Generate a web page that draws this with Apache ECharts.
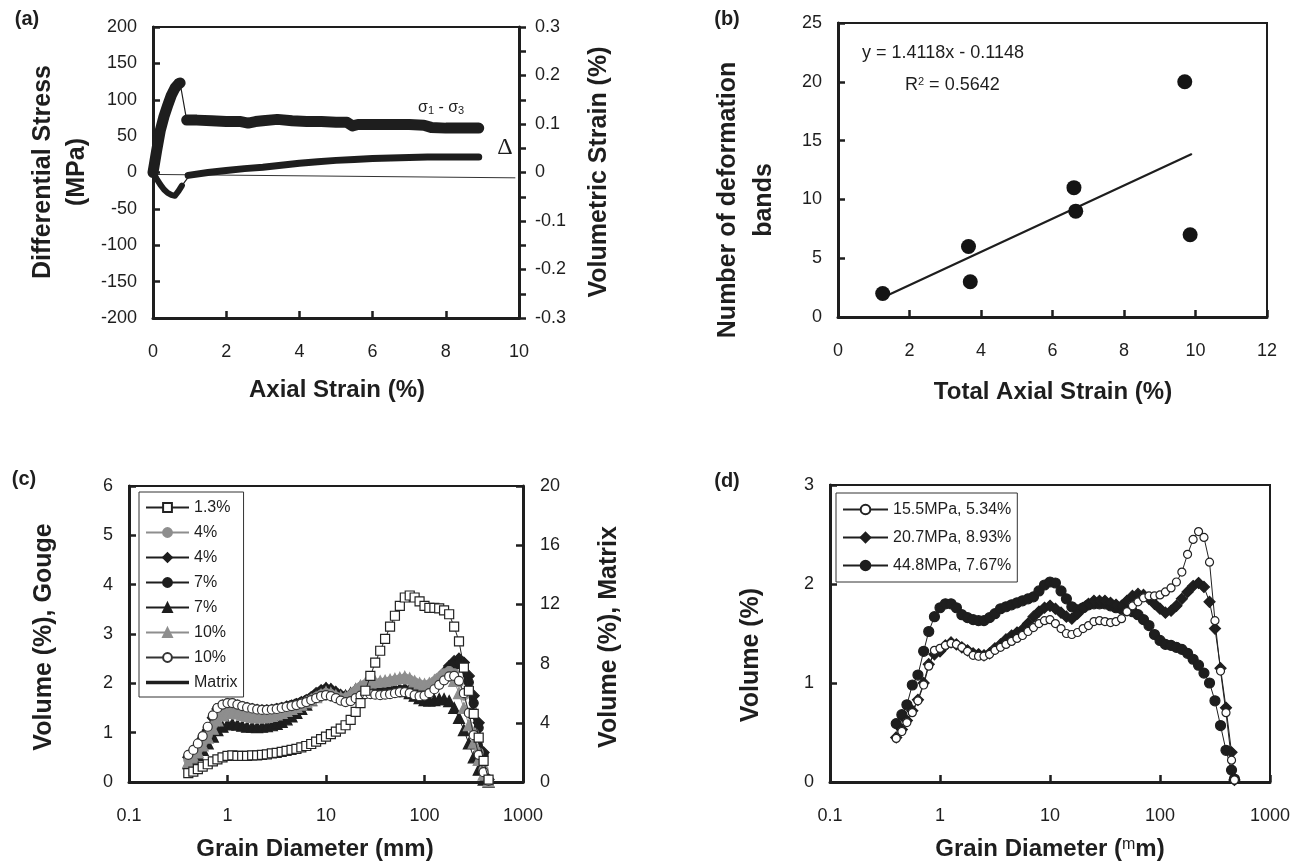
<!DOCTYPE html>
<html>
<head>
<meta charset="utf-8">
<script src="https://cdn.jsdelivr.net/npm/echarts@6/dist/echarts.min.js"></script>
<style>
  html, body { margin: 0; padding: 0; background: #fff; }
  #chart { width: 1305px; height: 864px; }
</style>
</head>
<body>
<div id="chart"></div>
<script>
// ---------- (a) triaxial test: differential stress and volumetric strain ----------
const aRiseStrain = [0, 0.05, 0.1, 0.2, 0.3, 0.4, 0.5, 0.6, 0.7, 0.74];
const aRiseStress = [0, 15, 30, 58, 77, 92, 106, 116, 122, 123];
const aDropStrain = [0.74, 0.92];
const aDropStress = [123, 72];
const aPlateauStrain = [0.92, 1.2, 1.6, 2.0, 2.4, 2.6, 2.8, 3.0, 3.4, 3.8, 4.2, 4.6, 5.0, 5.3, 5.45, 5.6, 6.0, 6.5, 7.0, 7.4, 7.6, 8.0, 8.5, 8.9];
const aPlateauStress = [72, 72, 71, 70, 70, 68, 70, 71, 73, 71, 70, 70, 69, 69, 64, 66, 66, 66, 66, 65, 62, 61, 61, 61];
const aDilStrain = [0, 0.1, 0.2, 0.3, 0.4, 0.5, 0.6, 0.7, 0.79];
const aDilVol = [0, -0.013, -0.025, -0.035, -0.042, -0.046, -0.048, -0.038, -0.027];
const aLinkStrain = [0.79, 0.96];
const aLinkVol = [-0.027, -0.010];
const aBandStrain = [0.96, 1.5, 2.0, 2.5, 3.0, 3.5, 4.0, 4.5, 5.0, 5.5, 6.0, 6.5, 7.0, 7.5, 8.0, 8.5, 8.9];
const aBandVol = [-0.006, 0.0, 0.004, 0.008, 0.011, 0.015, 0.019, 0.022, 0.025, 0.027, 0.029, 0.030, 0.031, 0.032, 0.032, 0.032, 0.032];
const aRefStrain = [0, 9.9];
const aRefVol = [-0.004, -0.011];

// ---------- (b) deformation bands vs total axial strain ----------
const bStrain = [1.25, 3.65, 3.7, 6.6, 6.65, 9.7, 9.85];
const bBands = [2, 6, 3, 11, 9, 20, 7];
const bFitRange = [1.33, 9.88];
const bFitSlope = 1.4118;
const bFitIntercept = -0.1148;
const bFitR2 = '0.5642';

// ---------- grain size bins (mm) shared by (c) and (d) ----------
const grainDiameter = [0.40, 0.45, 0.50, 0.56, 0.63, 0.71, 0.79, 0.89, 1.00, 1.12,
  1.26, 1.41, 1.58, 1.78, 2.00, 2.24, 2.51, 2.82, 3.16, 3.55,
  3.98, 4.47, 5.01, 5.62, 6.31, 7.08, 7.94, 8.91, 10.0, 11.2,
  12.6, 14.1, 15.8, 17.8, 20.0, 22.4, 25.1, 28.2, 31.6, 35.5,
  39.8, 44.7, 50.1, 56.2, 63.1, 70.8, 79.4, 89.1, 100, 112,
  126, 141, 158, 178, 200, 224, 251, 282, 316, 355,
  398, 447, 475];

// ---------- (c) gouge grain size distributions (volume %) ----------
const cGouge13 = [0.18, 0.21, 0.26, 0.31, 0.36, 0.42, 0.46, 0.50, 0.53, 0.54,
  0.53, 0.53, 0.53, 0.54, 0.54, 0.55, 0.56, 0.58, 0.59, 0.61,
  0.63, 0.65, 0.67, 0.70, 0.73, 0.77, 0.82, 0.87, 0.92, 0.97,
  1.02, 1.08, 1.15, 1.26, 1.42, 1.60, 1.85, 2.15, 2.42, 2.66,
  2.90, 3.15, 3.37, 3.57, 3.74, 3.78, 3.74, 3.66, 3.57, 3.53,
  3.53, 3.52, 3.48, 3.40, 3.15, 2.85, 2.32, 1.85, 1.38, 0.90,
  0.43, 0.05];
const cGouge4Grey = [0.45, 0.55, 0.65, 0.80, 0.95, 1.15, 1.30, 1.38, 1.42, 1.42,
  1.40, 1.37, 1.35, 1.33, 1.32, 1.32, 1.33, 1.35, 1.38, 1.41,
  1.45, 1.49, 1.53, 1.57, 1.62, 1.67, 1.72, 1.77, 1.80, 1.78,
  1.73, 1.70, 1.70, 1.76, 1.85, 1.93, 1.98, 2.00, 2.00, 2.01,
  2.02, 2.04, 2.06, 2.08, 2.10, 2.07, 2.02, 1.98, 1.96, 1.98,
  2.04, 2.12, 2.20, 2.25, 2.20, 2.02, 1.75, 1.40, 1.00, 0.60,
  0.25, 0.03];
const cGouge4Black = [0.50, 0.60, 0.72, 0.88, 1.05, 1.30, 1.48, 1.55, 1.58, 1.58,
  1.55, 1.52, 1.50, 1.48, 1.46, 1.45, 1.45, 1.46, 1.48, 1.50,
  1.53, 1.55, 1.58, 1.62, 1.66, 1.72, 1.80, 1.86, 1.90, 1.88,
  1.82, 1.76, 1.74, 1.78, 1.86, 1.90, 1.90, 1.88, 1.86, 1.84,
  1.84, 1.85, 1.86, 1.87, 1.88, 1.86, 1.82, 1.78, 1.78, 1.85,
  1.95, 2.08, 2.22, 2.35, 2.45, 2.50, 2.42, 2.15, 1.75, 1.20,
  0.60, 0.05];
const cGouge7Circle = [0.52, 0.62, 0.75, 0.92, 1.10, 1.33, 1.50, 1.56, 1.59, 1.59,
  1.56, 1.53, 1.51, 1.49, 1.47, 1.46, 1.46, 1.47, 1.49, 1.51,
  1.53, 1.56, 1.59, 1.62, 1.66, 1.71, 1.78, 1.84, 1.88, 1.86,
  1.80, 1.75, 1.73, 1.76, 1.83, 1.86, 1.86, 1.85, 1.83, 1.82,
  1.82, 1.83, 1.84, 1.85, 1.86, 1.84, 1.80, 1.76, 1.75, 1.80,
  1.90, 2.02, 2.15, 2.28, 2.38, 2.42, 2.32, 2.02, 1.60, 1.10,
  0.55, 0.05];
const cGouge7Triangle = [0.38, 0.45, 0.55, 0.65, 0.78, 0.92, 1.05, 1.12, 1.17, 1.18,
  1.16, 1.14, 1.12, 1.12, 1.11, 1.12, 1.13, 1.15, 1.18, 1.22,
  1.27, 1.33, 1.40, 1.48, 1.57, 1.66, 1.75, 1.84, 1.90, 1.88,
  1.82, 1.76, 1.75, 1.80, 1.88, 1.94, 1.97, 1.96, 1.92, 1.88,
  1.85, 1.84, 1.84, 1.85, 1.84, 1.80, 1.75, 1.70, 1.66, 1.65,
  1.66, 1.68, 1.68, 1.64, 1.50, 1.30, 1.05, 0.78, 0.50, 0.25,
  0.05, 0.00];
const cGouge10Grey = [0.40, 0.50, 0.60, 0.74, 0.90, 1.08, 1.25, 1.35, 1.40, 1.41,
  1.39, 1.36, 1.34, 1.32, 1.31, 1.31, 1.32, 1.34, 1.37, 1.40,
  1.44, 1.48, 1.52, 1.57, 1.62, 1.67, 1.72, 1.77, 1.82, 1.80,
  1.75, 1.72, 1.72, 1.78, 1.88, 1.95, 2.00, 2.02, 2.03, 2.04,
  2.05, 2.07, 2.09, 2.11, 2.13, 2.10, 2.04, 2.00, 1.98, 2.00,
  2.06, 2.12, 2.16, 2.15, 2.05, 1.80, 1.50, 1.15, 0.80, 0.45,
  0.15, 0.01];
const cGouge10Open = [0.55, 0.65, 0.78, 0.93, 1.12, 1.35, 1.50, 1.57, 1.60, 1.60,
  1.57, 1.54, 1.51, 1.49, 1.47, 1.46, 1.46, 1.47, 1.48, 1.50,
  1.52, 1.54, 1.56, 1.59, 1.62, 1.66, 1.70, 1.74, 1.76, 1.74,
  1.70, 1.65, 1.62, 1.64, 1.70, 1.75, 1.78, 1.78, 1.77, 1.76,
  1.77, 1.78, 1.80, 1.82, 1.82, 1.80, 1.76, 1.74, 1.75, 1.80,
  1.88, 1.97, 2.06, 2.14, 2.15, 2.05, 1.80, 1.40, 0.95, 0.55,
  0.20, 0.02];
const cMatrixDiameter = [0.40, 0.50, 0.63, 0.79, 1.00, 1.26, 1.58, 2.00, 2.51, 3.16,
  3.98, 5.01, 6.31, 7.94, 10.0, 12.6, 15.8, 20.0, 25.1, 31.6,
  39.8, 50.1, 63.1, 79.4, 100, 126, 158, 200, 224, 251,
  282, 316, 355, 398, 447];
const cMatrixVolume = [1.7, 2.4, 3.5, 4.9, 5.3, 5.2, 5.0, 4.85, 4.85, 4.95,
  5.1, 5.3, 5.55, 5.95, 6.25, 6.0, 5.8, 6.1, 6.2, 6.1,
  6.1, 6.15, 6.2, 6.0, 5.85, 6.2, 6.9, 7.6, 7.8, 7.4,
  6.2, 4.6, 3.0, 1.4, 0.1];

// ---------- (d) grain size distributions at three confining pressures ----------
const d155 = [0.44, 0.51, 0.60, 0.70, 0.82, 0.98, 1.17, 1.33, 1.35, 1.38,
  1.40, 1.39, 1.36, 1.32, 1.28, 1.27, 1.27, 1.29, 1.33, 1.36,
  1.39, 1.42, 1.45, 1.48, 1.52, 1.56, 1.60, 1.63, 1.64, 1.60,
  1.55, 1.50, 1.49, 1.51, 1.55, 1.58, 1.62, 1.63, 1.62, 1.61,
  1.62, 1.65, 1.72, 1.78, 1.82, 1.86, 1.88, 1.88, 1.89, 1.92,
  1.96, 2.02, 2.12, 2.30, 2.45, 2.53, 2.47, 2.22, 1.63, 1.12,
  0.70, 0.22, 0.02];
const d207 = [0.45, 0.53, 0.62, 0.72, 0.83, 1.00, 1.19, 1.29, 1.32, 1.38,
  1.41, 1.39, 1.36, 1.33, 1.30, 1.29, 1.28, 1.30, 1.35, 1.39,
  1.44, 1.48, 1.51, 1.54, 1.60, 1.67, 1.72, 1.76, 1.78, 1.75,
  1.71, 1.67, 1.65, 1.70, 1.76, 1.80, 1.83, 1.83, 1.83, 1.81,
  1.79, 1.78, 1.83, 1.88, 1.90, 1.89, 1.85, 1.80, 1.75, 1.71,
  1.73, 1.78, 1.85, 1.92, 1.98, 2.01, 1.97, 1.82, 1.55, 1.15,
  0.75, 0.30, 0.02];
const d448 = [0.59, 0.68, 0.78, 0.98, 1.08, 1.32, 1.52, 1.67, 1.76, 1.80,
  1.80, 1.76, 1.69, 1.66, 1.64, 1.63, 1.63, 1.66, 1.70, 1.75,
  1.77, 1.79, 1.81, 1.83, 1.85, 1.87, 1.93, 1.99, 2.02, 2.01,
  1.93, 1.85, 1.77, 1.74, 1.76, 1.79, 1.80, 1.80, 1.80, 1.78,
  1.76, 1.75, 1.73, 1.72, 1.69, 1.64, 1.58, 1.49, 1.43, 1.39,
  1.38, 1.36, 1.34, 1.30, 1.24, 1.18, 1.10, 1.00, 0.82, 0.57,
  0.32, 0.12, 0.03];

// ---------- legend text ----------
const cLegendLabels = ['1.3%', '4%', '4%', '7%', '7%', '10%', '10%', 'Matrix'];
const dLegendLabels = ['15.5MPa, 5.34%', '20.7MPa, 8.93%', '44.8MPa, 7.67%'];

const FONT = '"Liberation Sans", Arial, Helvetica, sans-serif';
const INK = '#1e1e1e';
const GREY = '#8e8e8e';

function pairs(xs, ys) {
  const out = [];
  for (let i = 0; i < xs.length && i < ys.length; i++) {
    if (ys[i] != null) out.push([xs[i], ys[i]]);
  }
  return out;
}

function plainNumber(v) {
  return v >= 1 ? String(Math.round(v)) : String(+v.toFixed(3));
}

function axis(gridIndex, o) {
  const a = {
    gridIndex: gridIndex,
    type: o.type || 'value',
    axisLine: { show: true, onZero: false, lineStyle: { color: INK, width: 3 } },
    axisTick: { show: true, inside: o.tickInside !== false, length: 7, lineStyle: { color: INK, width: 2.5 } },
    axisLabel: { color: INK, fontSize: 18, fontFamily: FONT, margin: o.margin },
    splitLine: { show: false },
    minorSplitLine: { show: false }
  };
  if (o.position) a.position = o.position;
  if (o.min != null) a.min = o.min;
  if (o.max != null) a.max = o.max;
  if (o.interval != null) a.interval = o.interval;
  if (o.logBase) a.logBase = o.logBase;
  if (o.minor) a.minorTick = { show: true, splitNumber: o.minor, length: 7, lineStyle: { color: INK, width: 2.5 } };
  if (o.formatter) a.axisLabel.formatter = o.formatter;
  return a;
}

function curve(name, xi, yi, data, width, z) {
  return {
    name: name, type: 'line', xAxisIndex: xi, yAxisIndex: yi, data: data,
    symbol: 'none', z: z || 2,
    lineStyle: { color: INK, width: width, cap: 'round', join: 'round' },
    emphasis: { disabled: true }, silent: true
  };
}

function marked(name, xi, yi, data, sym, size, fill, stroke, lineColor, z) {
  return {
    name: name, type: 'line', xAxisIndex: xi, yAxisIndex: yi, data: data,
    symbol: sym, symbolSize: size, showSymbol: true, z: z,
    itemStyle: { color: fill, borderColor: stroke, borderWidth: 1.2 },
    lineStyle: { color: lineColor, width: 1 },
    emphasis: { disabled: true }, silent: true
  };
}

const cNames = ['gouge 1.3% square', 'gouge 4% grey circle', 'gouge 4% diamond', 'gouge 7% circle',
  'gouge 7% triangle', 'gouge 10% grey triangle', 'gouge 10% open circle', 'matrix'];
const dNames = ['15.5 MPa open circle', '20.7 MPa diamond', '44.8 MPa circle'];
const labelOf = {};
cNames.forEach((n, i) => { labelOf[n] = cLegendLabels[i]; });
dNames.forEach((n, i) => { labelOf[n] = dLegendLabels[i]; });

// legend entries for (c); the matrix entry is a bare thick line
const cLegendData = cNames.map((n) => n === 'matrix'
  ? { name: n, icon: 'path://M0,0 L43,0 L43,3.5 L0,3.5 Z', itemStyle: { color: INK } }
  : n);

function text(x, y, str, size, extra) {
  return Object.assign({
    type: 'text', x: x, y: y, silent: true,
    style: { text: str, fontSize: size, fontFamily: FONT, fontWeight: 'bold', fill: INK, align: 'center', verticalAlign: 'middle' }
  }, extra || {});
}
function vtext(x, y, str, size) {
  return text(x, y, str, size, { rotation: Math.PI / 2 });
}

const chart = echarts.init(document.getElementById('chart'), null, { renderer: 'canvas' });

const gridStyle = { show: true, borderColor: INK, borderWidth: 2, backgroundColor: 'transparent', containLabel: false };

const eqText = 'y = ' + bFitSlope + 'x - ' + Math.abs(bFitIntercept);

const option = {
  animation: false,
  backgroundColor: '#ffffff',
  textStyle: { fontFamily: FONT },
  grid: [
    Object.assign({ left: 153, top: 27, width: 366, height: 291 }, gridStyle),
    Object.assign({ left: 838, top: 23, width: 429, height: 294 }, gridStyle),
    Object.assign({ left: 129, top: 486, width: 394, height: 296 }, gridStyle),
    Object.assign({ left: 830, top: 485, width: 440, height: 297 }, gridStyle)
  ],
  xAxis: [
    axis(0, { min: 0, max: 10, interval: 2, margin: 25 }),
    axis(1, { min: 0, max: 12, interval: 2, margin: 25 }),
    axis(2, { type: 'log', logBase: 10, min: 0.1, max: 1000, margin: 25, formatter: plainNumber }),
    axis(3, { type: 'log', logBase: 10, min: 0.1, max: 1000, margin: 25, formatter: plainNumber })
  ],
  yAxis: [
    axis(0, { min: -200, max: 200, interval: 50, margin: 16 }),
    axis(0, { min: -0.3, max: 0.3, interval: 0.1, margin: 16, position: 'right', tickInside: false, minor: 2 }),
    axis(1, { min: 0, max: 25, interval: 5, margin: 16 }),
    axis(2, { min: 0, max: 6, interval: 1, margin: 16 }),
    axis(2, { min: 0, max: 20, interval: 4, margin: 17, position: 'right' }),
    axis(3, { min: 0, max: 3, interval: 1, margin: 16 })
  ],
  legend: [
    {
      data: cLegendData, left: 139, top: 492, orient: 'vertical',
      padding: [7, 6, 6, 6], itemGap: 8, itemWidth: 43, itemHeight: 11,
      borderColor: '#333', borderWidth: 1, backgroundColor: '#fff',
      textStyle: { fontSize: 16, color: INK, fontFamily: FONT, lineHeight: 17 },
      formatter: (n) => labelOf[n], selectedMode: false
    },
    {
      data: dNames, left: 836, top: 493, orient: 'vertical',
      padding: [8, 6, 8, 6], itemGap: 11, itemWidth: 45, itemHeight: 12,
      borderColor: '#333', borderWidth: 1, backgroundColor: '#fff',
      textStyle: { fontSize: 16, color: INK, fontFamily: FONT, lineHeight: 17 },
      formatter: (n) => labelOf[n], selectedMode: false
    }
  ],
  series: [
    // (a)
    Object.assign(curve('reference', 0, 1, pairs(aRefStrain, aRefVol), 1, 1), { lineStyle: { color: '#333', width: 1 } }),
    curve('volumetric dilation', 0, 1, pairs(aDilStrain, aDilVol), 6, 2),
    curve('volumetric link', 0, 1, pairs(aLinkStrain, aLinkVol), 1.2, 2),
    curve('volumetric strain', 0, 1, pairs(aBandStrain, aBandVol), 7, 2),
    curve('stress rise', 0, 0, pairs(aRiseStrain, aRiseStress), 11, 3),
    curve('stress drop', 0, 0, pairs(aDropStrain, aDropStress), 1.2, 3),
    curve('stress plateau', 0, 0, pairs(aPlateauStrain, aPlateauStress), 11, 3),
    // (b)
    {
      name: 'bands', type: 'scatter', xAxisIndex: 1, yAxisIndex: 2,
      data: pairs(bStrain, bBands), symbol: 'circle', symbolSize: 15,
      itemStyle: { color: '#141414', opacity: 1 }, z: 3, silent: true
    },
    curve('linear fit', 1, 2, bFitRange.map(x => [x, bFitSlope * x + bFitIntercept]), 2.2, 2),
    // (c)
    Object.assign(curve(cNames[7], 2, 4, pairs(cMatrixDiameter, cMatrixVolume), 3.5, 1), { itemStyle: { color: INK } }),
    marked(cNames[4], 2, 3, pairs(grainDiameter, cGouge7Triangle), 'triangle', 11, INK, INK, INK, 2),
    marked(cNames[2], 2, 3, pairs(grainDiameter, cGouge4Black), 'diamond', 11, INK, INK, INK, 3),
    marked(cNames[3], 2, 3, pairs(grainDiameter, cGouge7Circle), 'circle', 9, INK, INK, INK, 3),
    marked(cNames[1], 2, 3, pairs(grainDiameter, cGouge4Grey), 'circle', 9, GREY, GREY, GREY, 4),
    marked(cNames[5], 2, 3, pairs(grainDiameter, cGouge10Grey), 'triangle', 11, GREY, GREY, GREY, 4),
    marked(cNames[6], 2, 3, pairs(grainDiameter, cGouge10Open), 'circle', 9, '#ffffff', '#333', '#333', 5),
    marked(cNames[0], 2, 3, pairs(grainDiameter, cGouge13), 'rect', 9, '#ffffff', '#222', '#222', 6),
    // (d)
    marked(dNames[2], 3, 5, pairs(grainDiameter, d448), 'circle', 10, INK, INK, INK, 2),
    marked(dNames[1], 3, 5, pairs(grainDiameter, d207), 'diamond', 11, INK, INK, INK, 3),
    marked(dNames[0], 3, 5, pairs(grainDiameter, d155), 'circle', 8, '#ffffff', '#222', '#222', 4)
  ],
  graphic: [
    text(27, 19, '(a)', 20),
    text(727, 19, '(b)', 20),
    text(24, 479, '(c)', 20),
    text(727, 481, '(d)', 20),
    // (a) titles
    vtext(43, 172, 'Differential Stress', 25),
    vtext(77, 172, '(MPa)', 25),
    vtext(599, 172, 'Volumetric Strain (%)', 25),
    text(337, 390, 'Axial Strain (%)', 24),
    {
      type: 'text', x: 418, y: 108, silent: true,
      style: {
        text: '{s|σ}{b|1}{s| - σ}{b|3}', fill: INK, align: 'left', verticalAlign: 'middle',
        rich: {
          s: { fontSize: 16, fontFamily: FONT, fill: INK },
          b: { fontSize: 11, fontFamily: FONT, fill: INK, verticalAlign: 'bottom' }
        }
      }
    },
    {
      type: 'text', x: 505, y: 148, silent: true,
      style: { text: 'Δ', fontSize: 24, fontFamily: '"Liberation Serif", "DejaVu Serif", serif', fill: INK, align: 'center', verticalAlign: 'middle' }
    },
    // (b) titles
    vtext(728, 200, 'Number of deformation', 25),
    vtext(764, 200, 'bands', 25),
    text(1053, 392, 'Total Axial Strain (%)', 24),
    {
      type: 'text', x: 862, y: 53, silent: true,
      style: { text: eqText, fontSize: 18, fontFamily: FONT, fill: INK, align: 'left', verticalAlign: 'middle' }
    },
    {
      type: 'text', x: 905, y: 85, silent: true,
      style: {
        text: '{t|R}{s|2}{t| = ' + bFitR2 + '}', fill: INK, align: 'left', verticalAlign: 'middle',
        rich: {
          t: { fontSize: 18, fontFamily: FONT, fill: INK },
          s: { fontSize: 11, fontFamily: FONT, fill: INK, verticalAlign: 'top' }
        }
      }
    },
    // (c) titles
    vtext(44, 637, 'Volume (%), Gouge', 25),
    vtext(609, 637, 'Volume (%), Matrix', 25),
    text(315, 849, 'Grain Diameter (mm)', 24),
    // (d) titles
    vtext(751, 655, 'Volume (%)', 25),
    {
      type: 'text', x: 1050, y: 849, silent: true,
      style: {
        text: '{t|Grain Diameter (}{u|m}{t|m)}', fill: INK, align: 'center', verticalAlign: 'middle',
        rich: {
          t: { fontSize: 24, fontWeight: 'bold', fontFamily: FONT, fill: INK },
          u: { fontSize: 16, fontWeight: 'normal', fontFamily: FONT, fill: INK, verticalAlign: 'top' }
        }
      }
    }
  ]
};

chart.setOption(option);
</script>
</body>
</html>
